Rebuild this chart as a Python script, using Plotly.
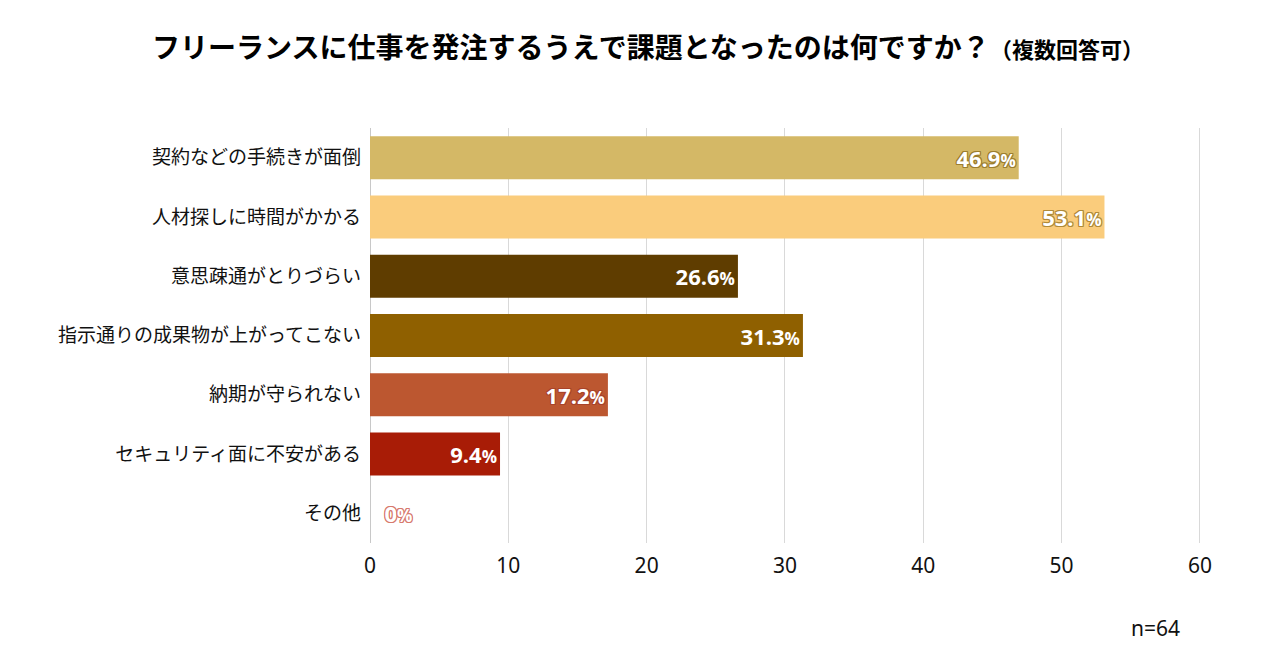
import plotly.graph_objects as go

# 設問と回答率（%）
categories = [
    "契約などの手続きが面倒",
    "人材探しに時間がかかる",
    "意思疎通がとりづらい",
    "指示通りの成果物が上がってこない",
    "納期が守られない",
    "セキュリティ面に不安がある",
    "その他",
]
values = [46.9, 53.1, 26.6, 31.3, 17.2, 9.4, 0]
bar_colors = ["#D4B866", "#FACC7C", "#5F3D00", "#8F6000", "#BC5730", "#A81C06", "#D97F73"]
stroke_colors = ["#9C7E2E", "#B08A38", "#5F3D00", "#8F6000", "#A8432A", "#A81C06", "#D77A6E"]
x_ticks = [0, 10, 20, 30, 40, 50, 60]
n_total = 64


def outline(c):
    return ", ".join(f"{dx}px {dy}px 0 {c}" for dx in (-1, 0, 1) for dy in (-1, 0, 1) if dx or dy)


labels = []
for v in values:
    num = f"{v:.1f}" if v else "\u00a0\u00a00"
    labels.append(f"{num}<span style='font-size:17px'>%</span>")

fig = go.Figure()
fig.add_trace(go.Bar(
    y=categories,
    x=values,
    orientation="h",
    marker=dict(color=bar_colors, line=dict(width=0)),
    text=labels,
    textposition=["inside"] * 6 + ["outside"],
    insidetextanchor="end",
    constraintext="none",
    cliponaxis=False,
    textfont=dict(
        family="Open Sans",
        size=22,
        color="white",
        weight="bold",
        shadow=[outline(c) for c in stroke_colors],
    ),
    hoverinfo="skip",
))

fig.add_annotation(
    text=f"n={n_total}", xref="paper", yref="paper", x=0.976, y=-0.205,
    xanchor="right", yanchor="middle", showarrow=False,
    font=dict(family="Noto Sans", size=21, color="#111"),
)

fig.update_layout(
    title=dict(
        text="フリーランスに仕事を発注するうえで課題となったのは何ですか？<span style='font-size:22px'>（複数回答可）</span>",
        x=0.5, xref="container", xanchor="center",
        y=0.94, yref="container", yanchor="middle",
        font=dict(family="Noto Sans CJK JP", size=28, color="#000", weight="bold"),
    ),
    width=1280,
    height=670,
    margin=dict(l=362, r=86, t=120, b=135),
    bargap=0.275,
    plot_bgcolor="white",
    paper_bgcolor="white",
    showlegend=False,
    xaxis=dict(
        range=[0, 60.15],
        tickmode="array",
        tickvals=x_ticks,
        showgrid=True,
        gridcolor="#d9d9d9",
        gridwidth=1,
        zeroline=True,
        zerolinecolor="#c8c8c8",
        zerolinewidth=1,
        ticks="",
        tickfont=dict(family="Noto Sans", size=21, color="#111"),
        ticklabelstandoff=8,
        fixedrange=True,
    ),
    yaxis=dict(
        autorange="reversed",
        ticks="",
        ticklabelstandoff=8,
        tickfont=dict(family="Noto Sans CJK JP", size=19, color="#111"),
        fixedrange=True,
    ),
)

fig.write_html("out.html")
